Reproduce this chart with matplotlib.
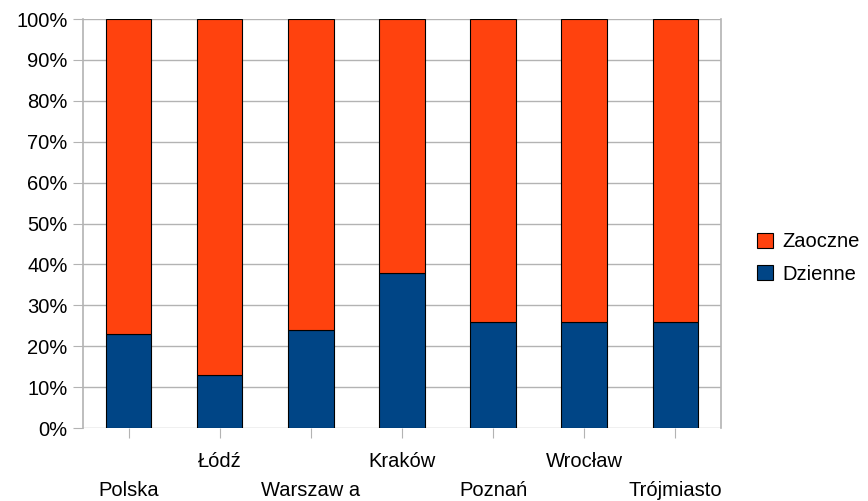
import numpy as np
import matplotlib.pyplot as plt
from matplotlib.patches import Patch
from matplotlib.ticker import FuncFormatter

plt.rcParams['font.family'] = ['Liberation Sans', 'DejaVu Sans']

# share of full-time vs part-time students, in percent
miasta = ['Polska', 'Łódź', 'Warszaw a', 'Kraków', 'Poznań', 'Wrocław', 'Trójmiasto']
dzienne = [23, 13, 24, 38, 26, 26, 26]
zaoczne = [100 - d for d in dzienne]

kol_dz = '#004586'
kol_za = '#ff420e'

fig = plt.figure(figsize=(8.68, 5.01), dpi=100)
ax = fig.add_axes([0.0956, 0.1457, 0.735, 0.8163])

x = np.arange(len(miasta))
ax.bar(x, dzienne, width=0.5, color=kol_dz, edgecolor='black', linewidth=0.8, zorder=3)
ax.bar(x, zaoczne, width=0.5, bottom=dzienne, color=kol_za, edgecolor='black', linewidth=0.8, zorder=3)

ax.set_xlim(-0.5, len(miasta) - 0.5)
ax.set_ylim(0, 100)
ax.set_yticks(np.arange(0, 101, 10))
ax.yaxis.set_major_formatter(FuncFormatter(lambda v, p: '%d%%' % v))
ax.grid(axis='y', color='#b3b3b3', linewidth=1, zorder=0)

for s in ['top', 'bottom']:
    ax.spines[s].set_visible(False)
for s in ['left', 'right']:
    ax.spines[s].set_color('#b3b3b3')
    ax.spines[s].set_linewidth(1.2)

ax.tick_params(axis='y', length=7, color='#b3b3b3', labelsize=14.5, pad=4)
ax.tick_params(axis='x', length=7, color='#b3b3b3', labelsize=14.5, pad=4)

# staggered category labels
ax.set_xticks(x)
ax.set_xticklabels(['' for m in miasta])
for i, m in enumerate(miasta):
    y = -0.083 if i % 2 else -0.154
    ax.text(i, y, m, transform=ax.get_xaxis_transform(), ha='center', va='center', fontsize=14.5)

uchwyty = [Patch(facecolor=kol_za, edgecolor='black', linewidth=0.8),
           Patch(facecolor=kol_dz, edgecolor='black', linewidth=0.8)]
fig.legend(uchwyty, ['Zaoczne', 'Dzienne'], loc='center left', bbox_to_anchor=(0.861, 0.485),
           frameon=False, fontsize=14.5, handlelength=0.75, handleheight=0.75,
           handletextpad=0.5, labelspacing=0.65, borderpad=0)

fig.savefig('out.png', dpi=100)
